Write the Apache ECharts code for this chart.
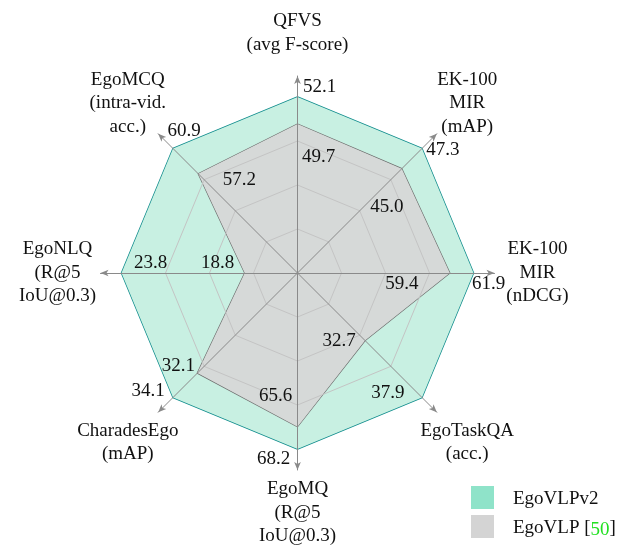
<!DOCTYPE html>
<html>
<head>
<meta charset="utf-8">
<script src="https://cdn.jsdelivr.net/npm/echarts@6/dist/echarts.min.js"></script>
<style>
  html, body { margin: 0; padding: 0; background: #fff; }
  #main { width: 622px; height: 546px; }
</style>
</head>
<body>
<div id="main"></div>
<script>
// axes, counter-clockwise from the top (ECharts radar order)
const axisNames = [
  'QFVS\n(avg F-score)',
  'EgoMCQ\n(intra-vid.\nacc.)',
  'EgoNLQ\n(R@5\nIoU@0.3)',
  'CharadesEgo\n(mAP)',
  'EgoMQ\n(R@5\nIoU@0.3)',
  'EgoTaskQA\n(acc.)',
  'EK-100\nMIR\n(nDCG)',
  'EK-100\nMIR\n(mAP)'
];
const egoVLPv2 = [52.1, 60.9, 23.8, 34.1, 68.2, 37.9, 61.9, 47.3];
const egoVLP = [49.7, 57.2, 18.8, 32.1, 65.6, 32.7, 59.4, 45.0];
const seriesNames = ['EgoVLPv2', 'EgoVLP'];

// each axis runs from 70% of its max to its max
const axisMax = egoVLPv2;
const axisMin = axisMax.map(m => m * 0.7);

// where the value labels sit next to their points
const v2Offsets = [[22, -10], [11, -18], [29, -10], [-25, -6], [-24, 10], [-34, -4], [15, 11], [21, 1]];
const v1Offsets = [[21, 33], [41, 6], [-27, -10], [-19, -7], [-22, -31], [-26, 0], [-48, 11], [-15, 38]];

const CENTER = [297.5, 273];
const R = 176;
const FONT = 'Liberation Serif';

function norm(v, i) {
  return (v - axisMin[i]) / (axisMax[i] - axisMin[i]);
}

function labelData(vals, offsets) {
  return vals.map((v, i) => ({
    value: [norm(v, i), i],
    label: { offset: offsets[i] },
    text: v.toFixed(1)
  }));
}

const chart = echarts.init(document.getElementById('main'));

chart.setOption({
  animation: false,
  backgroundColor: '#fff',
  legend: {
    orient: 'vertical',
    left: 466,
    top: 481,
    itemWidth: 23,
    itemHeight: 23,
    itemGap: 6,
    icon: 'rect',
    data: seriesNames,
    itemStyle: { borderWidth: 0 },
    formatter: n => n === 'EgoVLP' ? 'EgoVLP [{g|50}]' : n,
    textStyle: {
      fontFamily: FONT,
      fontSize: 19,
      color: '#111',
      padding: [4, 0, 0, 14],
      rich: { g: { color: '#22e022', fontFamily: FONT, fontSize: 19, padding: [4, 0, 0, 0] } }
    }
  },
  radar: [
    {
      // outer axes with arrows and names
      center: CENTER,
      radius: 197,
      z: 3,
      indicator: axisNames.map(n => ({ name: n, min: 0, max: 1 })),
      nameGap: 43,
      axisName: {
        color: '#111',
        fontFamily: FONT,
        fontSize: 19,
        lineHeight: 23.5,
        align: 'center',
        verticalAlign: 'middle'
      },
      axisLine: {
        show: true,
        symbol: ['none', 'arrow'],
        symbolSize: [5, 8],
        lineStyle: { color: '#8a8a8a', width: 1 }
      },
      splitLine: { show: false },
      splitArea: { show: false }
    },
    {
      // value grid
      center: CENTER,
      radius: R,
      z: 3,
      splitNumber: 4,
      indicator: axisNames.map((n, i) => ({ name: n, min: axisMin[i], max: axisMax[i] })),
      axisName: { show: false },
      axisLine: { show: false },
      axisLabel: { show: false },
      splitLine: {
        show: true,
        lineStyle: { color: ['#c4c4c4', '#c4c4c4', '#c4c4c4', '#c4c4c4', 'rgba(0,0,0,0)'], width: 1 }
      },
      splitArea: { show: false }
    }
  ],
  polar: { center: CENTER, radius: R },
  angleAxis: { type: 'value', min: 0, max: 8, startAngle: 90, clockwise: false, show: false },
  radiusAxis: { type: 'value', min: 0, max: 1, show: false },
  series: [
    {
      type: 'radar',
      radarIndex: 1,
      z: 2,
      symbol: 'none',
      data: [
        {
          name: seriesNames[0],
          value: egoVLPv2,
          itemStyle: { color: '#8fe3c9' },
          lineStyle: { color: '#0e8c8c', width: 1.5 },
          areaStyle: { color: '#c8f0e2', opacity: 1 }
        },
        {
          name: seriesNames[1],
          value: egoVLP,
          itemStyle: { color: '#d4d4d4' },
          lineStyle: { color: '#6e6e6e', width: 1.3 },
          areaStyle: { color: '#d6d9d8', opacity: 1 }
        }
      ]
    },
    {
      type: 'scatter',
      coordinateSystem: 'polar',
      z: 5,
      silent: true,
      symbolSize: 0,
      itemStyle: { color: '#111' },
      label: {
        show: true,
        position: 'inside',
        align: 'center',
        verticalAlign: 'middle',
        fontFamily: FONT,
        fontSize: 19,
        color: '#111',
        opacity: 1,
        textBorderWidth: 0,
        formatter: p => p.data.text
      },
      data: labelData(egoVLPv2, v2Offsets).concat(labelData(egoVLP, v1Offsets))
    }
  ]
});
</script>
</body>
</html>
